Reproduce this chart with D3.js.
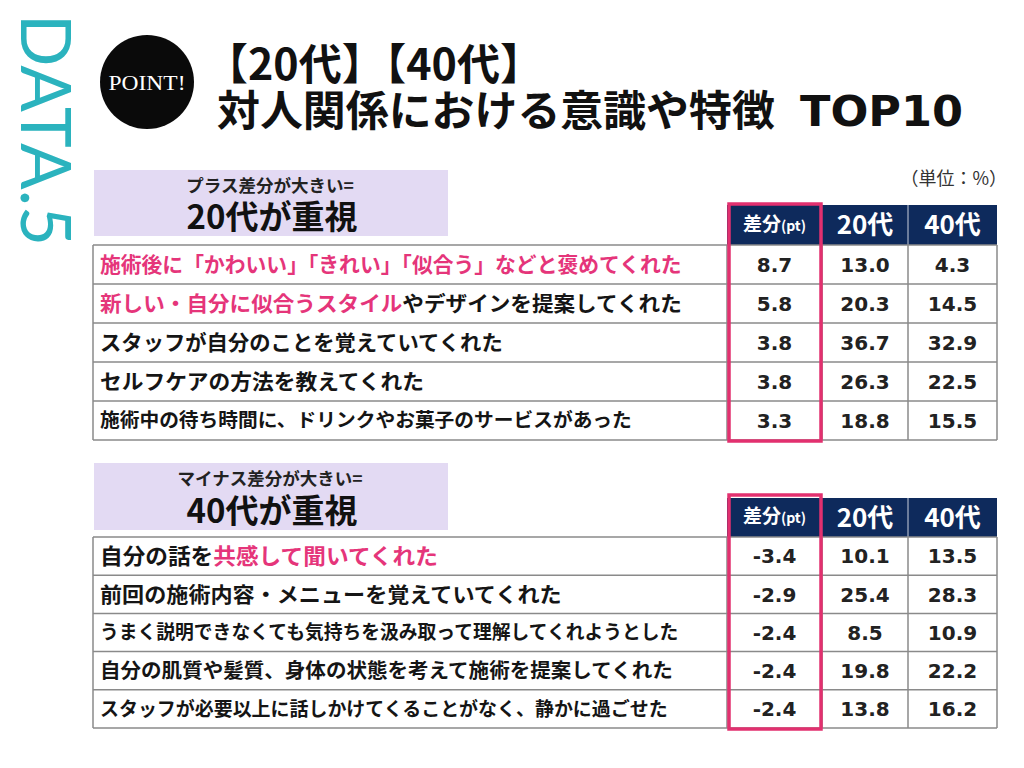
<!DOCTYPE html>
<html><head><meta charset="utf-8">
<script src="https://cdn.jsdelivr.net/npm/d3@7"></script>
<style>body{margin:0;background:#fff}</style></head>
<body><svg id="c" width="1024" height="768"></svg>
<script>
// ---------- DATA ----------
const topLabels = [
  [["施術後に「かわいい」「きれい」「似合う」などと褒めてくれた", true]],
  [["新しい・自分に似合うスタイル", true], ["やデザインを提案してくれた", false]],
  [["スタッフが自分のことを覚えていてくれた", false]],
  [["セルフケアの方法を教えてくれた", false]],
  [["施術中の待ち時間に、ドリンクやお菓子のサービスがあった", false]]
];
const topDiff = [8.7, 5.8, 3.8, 3.8, 3.3];
const top20 = [13.0, 20.3, 36.7, 26.3, 18.8];
const top40 = [4.3, 14.5, 32.9, 22.5, 15.5];

const bottomLabels = [
  [["自分の話を", false], ["共感して聞いてくれた", true]],
  [["前回の施術内容・メニューを覚えていてくれた", false]],
  [["うまく説明できなくても気持ちを汲み取って理解してくれようとした", false]],
  [["自分の肌質や髪質、身体の状態を考えて施術を提案してくれた", false]],
  [["スタッフが必要以上に話しかけてくることがなく、静かに過ごせた", false]]
];
const bottomDiff = [-3.4, -2.9, -2.4, -2.4, -2.4];
const bottom20 = [10.1, 25.4, 8.5, 19.8, 13.8];
const bottom40 = [13.5, 28.3, 10.9, 22.2, 16.2];

const columnHeaders = ["差分", "20代", "40代"];
const sectionTitles = [["プラス差分が大きい=", "20代が重視"], ["マイナス差分が大きい=", "40代が重視"]];

// ---------- LAYOUT / STYLE ----------
const JP = "'Noto Sans CJK JP','Noto Sans CJK SC',sans-serif";
const NUM = "'DejaVu Sans',Verdana,sans-serif";
const NAVY = "#0e2a5c", PINK = "#e2306f", TEXTPINK = "#e5357a", PURPLE = "#e3daf3", GRID = "#8a8a8a";
const colEdges = [93, 727, 822, 908, 997];
const topFit = [582, 582, 403, 324, 532];
const bottomFit = [338, 462, 579, 573, 568];
const topSizes = [21, 21, 21, 21, 19];
const bottomSizes = [22, 21, 19, 20, 19];

const svg = d3.select("#c");
const fmt = v => d3.format(".1f")(v).replace("\u2212", "-");

function fitText(sel, x0, w) {
  const node = sel.node();
  const len = node.getComputedTextLength();
  if (len > 0) {
    const k = w / len;
    sel.attr("transform", `translate(${x0},0) scale(${k},1) translate(${-x0},0)`);
  }
}

// DATA.5 vertical
svg.append("text")
  .attr("transform", "translate(21,14) rotate(90)")
  .attr("font-family", "Lato, 'DejaVu Sans', sans-serif")
  .attr("font-weight", 400)
  .attr("font-size", 70)
  .attr("fill", "#2bb3be")
  .attr("textLength", 232).attr("lengthAdjust", "spacingAndGlyphs")
  .text("DATA.5");

// POINT! circle
svg.append("circle").attr("cx", 147).attr("cy", 82).attr("r", 47).attr("fill", "#0a0a0a");
svg.append("text").attr("x", 147).attr("y", 90)
  .attr("text-anchor", "middle").attr("font-family", "'Liberation Serif','DejaVu Serif',serif")
  .attr("font-size", 22).attr("fill", "#fff").attr("textLength", 77).attr("lengthAdjust", "spacingAndGlyphs")
  .text("POINT!");

// Title
svg.append("text").attr("x", 205).attr("y", 80)
  .attr("font-family", JP).attr("font-weight", 700).attr("font-size", 43).attr("fill", "#111")
  .text("【20代】【40代】");
const t2 = svg.append("text").attr("x", 217).attr("y", 126)
  .attr("font-family", JP).attr("font-weight", 700).attr("font-size", 42).attr("fill", "#111")
  .text("対人関係における意識や特徴");
fitText(t2, 217, 558);
svg.append("text").attr("x", 800).attr("y", 126)
  .attr("font-family", NUM).attr("font-weight", 700).attr("font-size", 42).attr("fill", "#111")
  .attr("textLength", 163).attr("lengthAdjust", "spacingAndGlyphs")
  .text("TOP10");

// unit
svg.append("text").attr("x", 1007).attr("y", 185).attr("text-anchor", "end")
  .attr("font-family", JP).attr("font-size", 18).attr("fill", "#333").text("（単位：%）");

function drawSection(cfg) {
  const { boxTop, boxBottom, headTop, headBottom, pinkTop, pinkBottom, rowTop, rowBottom,
          labels, diff, v20, v40, titles, fits, sizes } = cfg;
  const g = svg.append("g");
  // purple title box
  g.append("rect").attr("x", 94).attr("y", boxTop).attr("width", 354).attr("height", boxBottom - boxTop).attr("fill", PURPLE);
  g.append("text").attr("x", 270).attr("y", boxTop + 22).attr("text-anchor", "middle")
    .attr("font-family", JP).attr("font-weight", 700).attr("font-size", 17.5).attr("fill", "#222").text(titles[0]);
  g.append("text").attr("x", 272).attr("y", boxBottom - 7).attr("text-anchor", "middle")
    .attr("font-family", JP).attr("font-weight", 700).attr("font-size", 33).attr("fill", "#111").text(titles[1]);

  const y = d3.scaleBand().domain(d3.range(labels.length)).range([rowTop, rowBottom]);

  // header
  g.append("rect").attr("x", colEdges[1]).attr("y", headTop).attr("width", colEdges[4] - colEdges[1])
    .attr("height", headBottom - headTop).attr("fill", NAVY);
  g.append("line").attr("x1", colEdges[3]).attr("x2", colEdges[3]).attr("y1", headTop).attr("y2", headBottom)
    .attr("stroke", "#c9cfdc").attr("stroke-width", 1);
  const hc = (headTop + headBottom) / 2;
  const h0 = g.append("text").attr("x", (colEdges[1] + colEdges[2]) / 2).attr("y", hc).attr("dy", "0.36em")
    .attr("text-anchor", "middle").attr("font-family", JP).attr("font-weight", 700).attr("fill", "#fff");
  h0.append("tspan").attr("font-size", 19).text(columnHeaders[0]);
  h0.append("tspan").attr("font-size", 14).text("(pt)");
  [1, 2].forEach(i => {
    g.append("text").attr("x", (colEdges[i + 1] + colEdges[i + 2]) / 2).attr("y", hc).attr("dy", "0.36em")
      .attr("text-anchor", "middle").attr("font-family", JP).attr("font-weight", 700)
      .attr("font-size", 26).attr("fill", "#fff").text(columnHeaders[i]);
  });

  // grid
  const rowsIdx = d3.range(labels.length + 1);
  g.selectAll(".hl").data(rowsIdx).join("line")
    .attr("x1", colEdges[0]).attr("x2", colEdges[4])
    .attr("y1", i => i < labels.length ? y(i) : y(labels.length - 1) + y.bandwidth())
    .attr("y2", i => i < labels.length ? y(i) : y(labels.length - 1) + y.bandwidth())
    .attr("stroke", GRID).attr("stroke-width", 1.5);
  g.selectAll(".vl").data(colEdges).join("line")
    .attr("x1", d => d).attr("x2", d => d).attr("y1", rowTop).attr("y2", rowBottom)
    .attr("stroke", GRID).attr("stroke-width", 1.5);

  // labels
  labels.forEach((parts, i) => {
    const t = g.append("text").attr("x", 100).attr("y", y(i) + y.bandwidth() / 2).attr("dy", "0.36em")
      .attr("font-family", JP).attr("font-weight", 700).attr("font-size", sizes[i]);
    parts.forEach(([s, hl]) => t.append("tspan").attr("fill", hl ? TEXTPINK : "#151515").text(s));
    fitText(t, 100, fits[i]);
  });

  // values
  [diff, v20, v40].forEach((arr, c) => {
    g.selectAll(null).data(arr).join("text")
      .attr("x", (colEdges[c + 1] + colEdges[c + 2]) / 2)
      .attr("y", (d, i) => y(i) + y.bandwidth() / 2).attr("dy", "0.36em")
      .attr("text-anchor", "middle").attr("font-family", NUM).attr("font-weight", 700)
      .attr("font-size", 20).attr("fill", "#222").text(d => fmt(d));
  });

  // pink highlight box
  g.append("rect").attr("x", colEdges[1] + 2).attr("y", pinkTop)
    .attr("width", colEdges[2] - colEdges[1] - 3).attr("height", pinkBottom - pinkTop)
    .attr("fill", "none").attr("stroke", PINK).attr("stroke-width", 3.5);
}

drawSection({ boxTop: 170, boxBottom: 236, headTop: 205, headBottom: 245, pinkTop: 204, pinkBottom: 441,
  rowTop: 245, rowBottom: 440, labels: topLabels, diff: topDiff, v20: top20, v40: top40,
  titles: sectionTitles[0], fits: topFit, sizes: topSizes });
drawSection({ boxTop: 463, boxBottom: 530, headTop: 498, headBottom: 537, pinkTop: 495, pinkBottom: 729,
  rowTop: 537, rowBottom: 728, labels: bottomLabels, diff: bottomDiff, v20: bottom20, v40: bottom40,
  titles: sectionTitles[1], fits: bottomFit, sizes: bottomSizes });
</script></body></html>
